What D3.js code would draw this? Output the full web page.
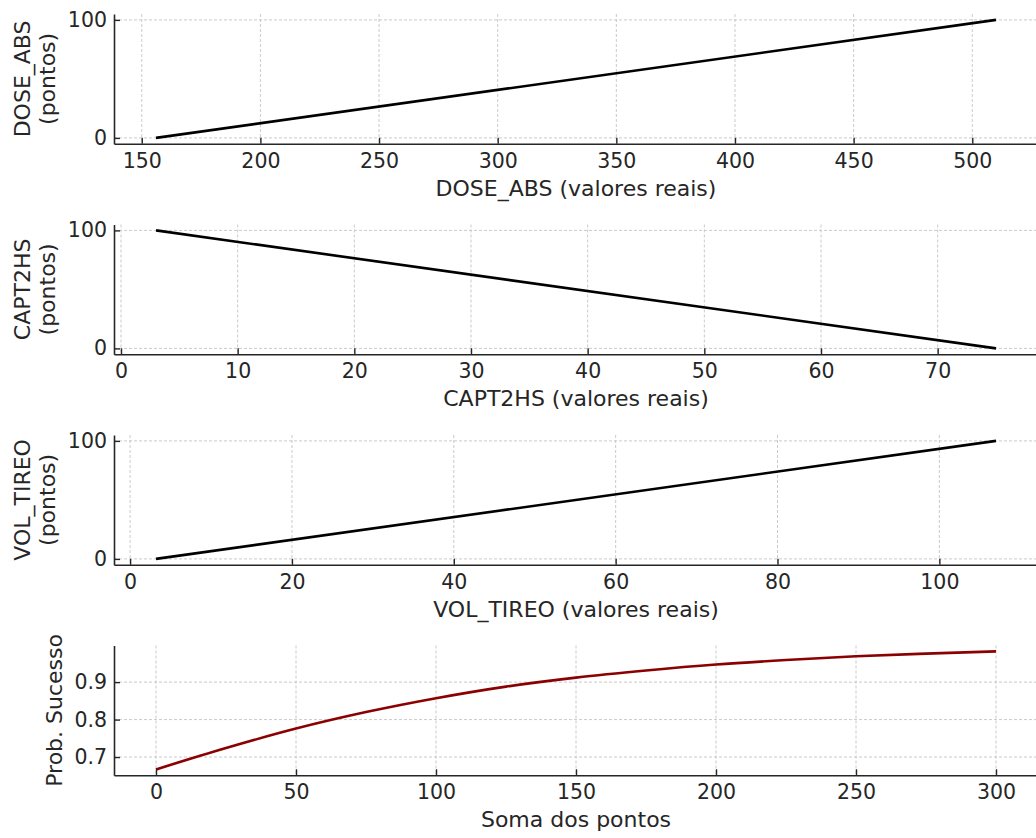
<!DOCTYPE html>
<meta charset="utf-8">
<script src="https://d3js.org/d3.v7.min.js"></script>
<style>
  body { margin: 0; background: #fff; }
  text { font-family: "DejaVu Sans", sans-serif; fill: #262626; }
</style>
<div id="chart"></div>
<script>
  // values
  const doseAbsValues = [156, 510];
  const doseAbsPoints = [0, 100];
  const capt2hsValues = [3, 75];
  const capt2hsPoints = [100, 0];
  const volTireoValues = [3.2, 107];
  const volTireoPoints = [0, 100];
  const somaPontos = [0, 25, 50, 75, 100, 125, 150, 175, 200, 225, 250, 275, 300];
  const probSucesso = [0.667, 0.724, 0.776, 0.820, 0.857, 0.888, 0.912, 0.931, 0.947, 0.959, 0.969, 0.976, 0.982];

  const doseAbsTicks = [150, 200, 250, 300, 350, 400, 450, 500];
  const capt2hsTicks = [0, 10, 20, 30, 40, 50, 60, 70];
  const volTireoTicks = [0, 20, 40, 60, 80, 100];
  const somaTicks = [0, 50, 100, 150, 200, 250, 300];
  const pointsTicks = [0, 100];
  const probTicks = [0.7, 0.8, 0.9];

  const width = 1036, height = 838;
  const left = 114, right = 1038, panelH = 129.8;
  const tops = [14, 224.5, 435, 645.5];
  const tickFont = 20.5, labelFont = 22;

  const panels = [
    {x: doseAbsValues, y: doseAbsPoints, xt: doseAbsTicks, yt: pointsTicks,
     xlab: "DOSE_ABS (valores reais)", ylab: ["DOSE_ABS", "(pontos)"], color: "#000", fmt: d3.format("d")},
    {x: capt2hsValues, y: capt2hsPoints, xt: capt2hsTicks, yt: pointsTicks,
     xlab: "CAPT2HS (valores reais)", ylab: ["CAPT2HS", "(pontos)"], color: "#000", fmt: d3.format("d")},
    {x: volTireoValues, y: volTireoPoints, xt: volTireoTicks, yt: pointsTicks,
     xlab: "VOL_TIREO (valores reais)", ylab: ["VOL_TIREO", "(pontos)"], color: "#000", fmt: d3.format("d")},
    {x: somaPontos, y: probSucesso, xt: somaTicks, yt: probTicks,
     xlab: "Soma dos pontos", ylab: ["Prob. Sucesso"], color: "#8b0000", fmt: d3.format(".1f")}
  ];

  const svg = d3.select("#chart").append("svg")
    .attr("width", width)
    .attr("height", height);

  // matplotlib-style 5% margins
  function padded(vals) {
    const [a, b] = d3.extent(vals);
    const p = (b - a) * 0.05;
    return [a - p, b + p];
  }

  panels.forEach((p, i) => {
    const top = tops[i], bottom = top + panelH;
    const x = d3.scaleLinear().domain(padded(p.x)).range([left, right]);
    const y = d3.scaleLinear().domain(padded(p.y)).range([bottom, top]);
    const g = svg.append("g");

    // grid
    g.selectAll(".vgrid").data(p.xt).join("line")
      .attr("x1", d => x(d)).attr("x2", d => x(d))
      .attr("y1", top).attr("y2", bottom)
      .attr("stroke", "#c4c4c4").attr("stroke-width", 0.9)
      .attr("stroke-dasharray", "3,2");
    g.selectAll(".hgrid").data(p.yt).join("line")
      .attr("x1", left).attr("x2", right)
      .attr("y1", d => y(d)).attr("y2", d => y(d))
      .attr("stroke", "#c4c4c4").attr("stroke-width", 0.9)
      .attr("stroke-dasharray", "3,2");

    // data line
    const line = d3.line()
      .x(d => x(d[0]))
      .y(d => y(d[1]))
      .curve(d3.curveMonotoneX);
    g.append("path")
      .datum(d3.zip(p.x, p.y))
      .attr("d", line)
      .attr("fill", "none")
      .attr("stroke", p.color)
      .attr("stroke-width", 2.6);

    // axes, ticks pointing inward
    const xAxis = g.append("g")
      .attr("transform", `translate(0,${bottom})`)
      .call(d3.axisBottom(x).tickValues(p.xt).tickSizeInner(-6).tickSizeOuter(0)
        .tickPadding(9.5).tickFormat(d3.format("d")));
    const yAxis = g.append("g")
      .attr("transform", `translate(${left},0)`)
      .call(d3.axisLeft(y).tickValues(p.yt).tickSizeInner(-6).tickSizeOuter(0)
        .tickPadding(7).tickFormat(p.fmt));
    [xAxis, yAxis].forEach(a => {
      a.select(".domain").attr("stroke", "#262626").attr("stroke-width", 1.6);
      a.selectAll(".tick line").attr("stroke", "#262626").attr("stroke-width", 1.4);
      a.selectAll(".tick text").attr("font-size", tickFont).attr("fill", "#262626")
        .attr("font-family", "DejaVu Sans, sans-serif");
    });

    // x label
    g.append("text")
      .attr("x", (left + right) / 2)
      .attr("y", bottom + 52)
      .attr("text-anchor", "middle")
      .attr("font-size", labelFont)
      .text(p.xlab);

    // y label (one or two lines)
    const cy = (top + bottom) / 2;
    const baseX = p.ylab.length === 2 ? [30, 55] : [62];
    p.ylab.forEach((t, j) => {
      g.append("text")
        .attr("transform", `translate(${baseX[j]},${cy}) rotate(-90)`)
        .attr("text-anchor", "middle")
        .attr("font-size", labelFont)
        .text(t);
    });
  });
</script>
